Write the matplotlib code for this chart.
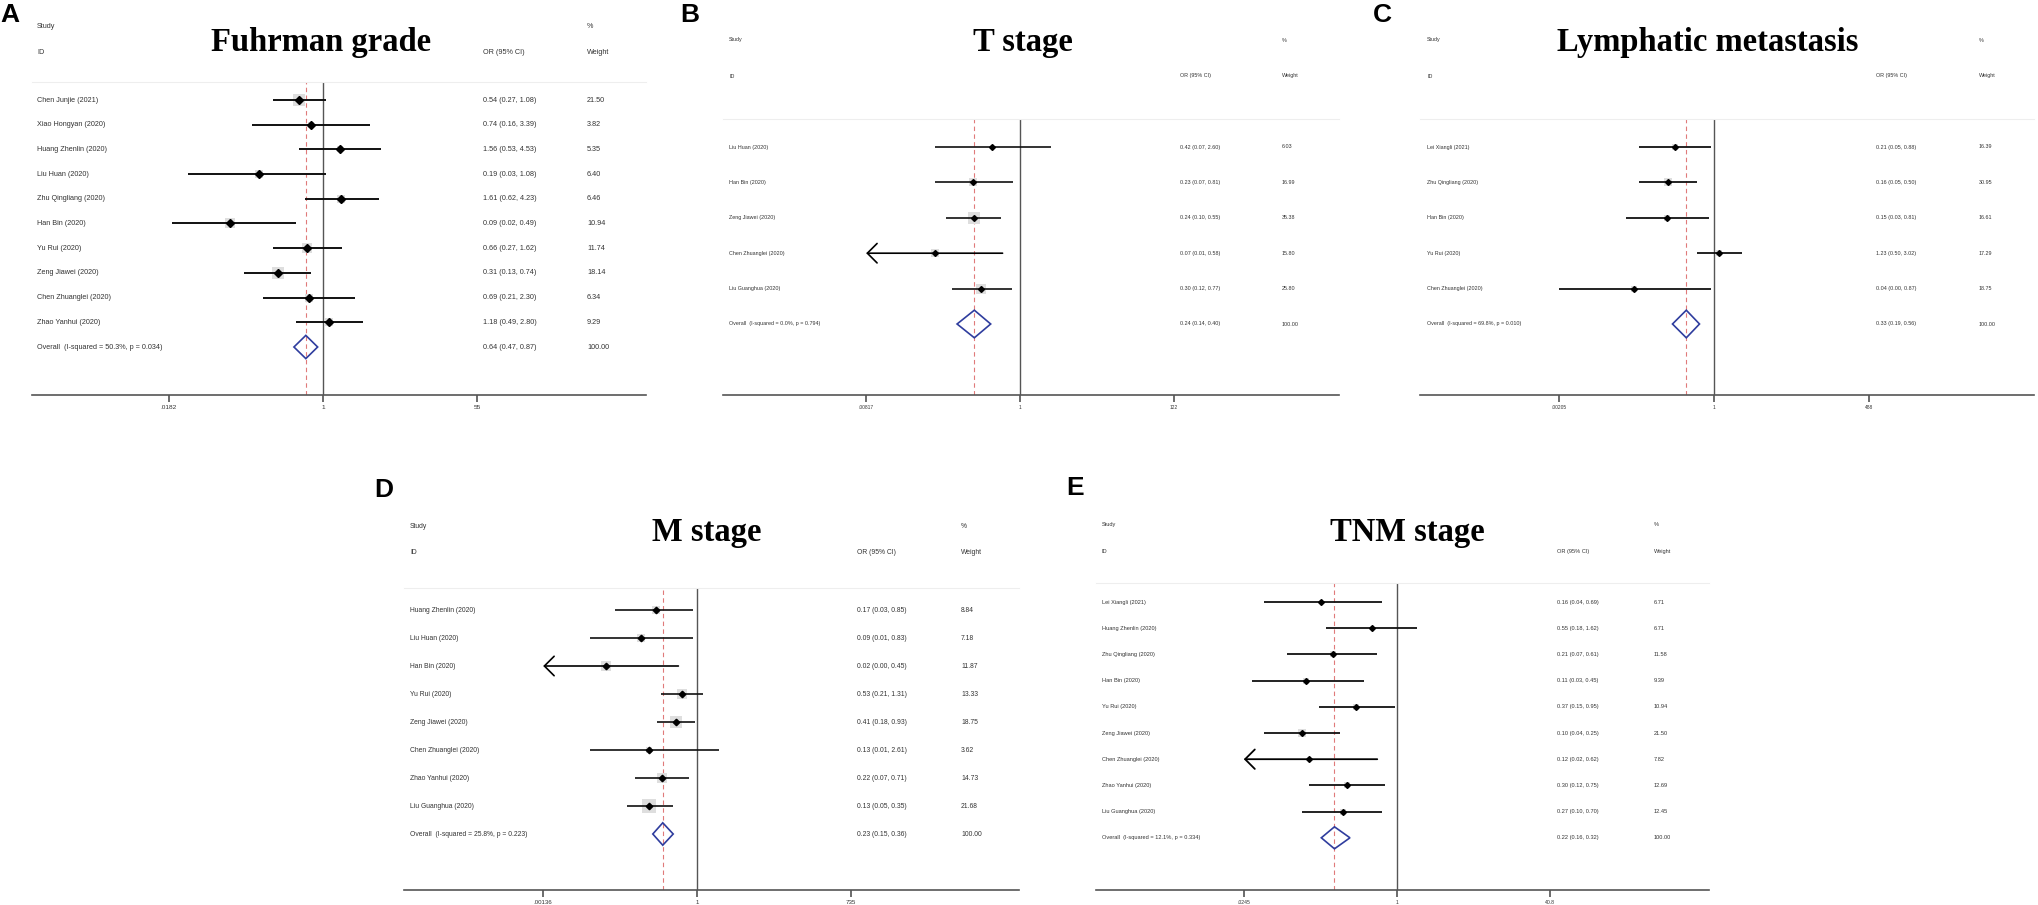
import numpy as np
import matplotlib
matplotlib.use("Agg")
from matplotlib import pyplot as plt
from matplotlib import transforms
from matplotlib.ticker import NullLocator

W, H = 2038, 905

# ---------------- data ----------------
a_studies = ["Chen Junjie (2021)", "Xiao Hongyan (2020)", "Huang Zhenlin (2020)", "Liu Huan (2020)",
             "Zhu Qingliang (2020)", "Han Bin (2020)", "Yu Rui (2020)", "Zeng Jiawei (2020)",
             "Chen Zhuanglei (2020)", "Zhao Yanhui (2020)"]
a_or = [0.54, 0.74, 1.56, 0.19, 1.61, 0.09, 0.66, 0.31, 0.69, 1.18]
a_lo = [0.27, 0.16, 0.53, 0.03, 0.62, 0.02, 0.27, 0.13, 0.21, 0.49]
a_hi = [1.08, 3.39, 4.53, 1.08, 4.23, 0.49, 1.62, 0.74, 2.30, 2.80]
a_wt = [21.50, 3.82, 5.35, 6.40, 6.46, 10.94, 11.74, 18.14, 6.34, 9.29]
a_overall = "Overall  (I-squared = 50.3%, p = 0.034)"
a_pooled = [0.64, 0.47, 0.87]
a_ticks = [0.0182, 1, 55]
a_ticklabels = [".0182", "1", "55"]
a_arrows = []

b_studies = ["Liu Huan (2020)", "Han Bin (2020)", "Zeng Jiawei (2020)", "Chen Zhuanglei (2020)",
             "Liu Guanghua (2020)"]
b_or = [0.42, 0.23, 0.24, 0.07, 0.30]
b_lo = [0.07, 0.07, 0.10, 0.01, 0.12]
b_hi = [2.60, 0.81, 0.55, 0.58, 0.77]
b_wt = [6.03, 16.99, 35.38, 15.80, 25.80]
b_overall = "Overall  (I-squared = 0.0%, p = 0.794)"
b_pooled = [0.24, 0.14, 0.40]
b_ticks = [0.00817, 1, 122]
b_ticklabels = [".00817", "1", "122"]
b_arrows = ["Chen Zhuanglei (2020)"]

c_studies = ["Lei Xiangli (2021)", "Zhu Qingliang (2020)", "Han Bin (2020)", "Yu Rui (2020)",
             "Chen Zhuanglei (2020)"]
c_or = [0.21, 0.16, 0.15, 1.23, 0.04]
c_lo = [0.05, 0.05, 0.03, 0.50, 0.00]
c_hi = [0.88, 0.50, 0.81, 3.02, 0.87]
c_wt = [16.39, 30.95, 16.61, 17.29, 18.75]
c_overall = "Overall  (I-squared = 69.8%, p = 0.010)"
c_pooled = [0.33, 0.19, 0.56]
c_ticks = [0.00205, 1, 488]
c_ticklabels = [".00205", "1", "488"]
c_arrows = []

d_studies = ["Huang Zhenlin (2020)", "Liu Huan (2020)", "Han Bin (2020)", "Yu Rui (2020)",
             "Zeng Jiawei (2020)", "Chen Zhuanglei (2020)", "Zhao Yanhui (2020)", "Liu Guanghua (2020)"]
d_or = [0.17, 0.09, 0.02, 0.53, 0.41, 0.13, 0.22, 0.13]
d_lo = [0.03, 0.01, 0.00, 0.21, 0.18, 0.01, 0.07, 0.05]
d_hi = [0.85, 0.83, 0.45, 1.31, 0.93, 2.61, 0.71, 0.35]
d_wt = [8.84, 7.18, 11.87, 13.33, 18.75, 3.62, 14.73, 21.68]
d_overall = "Overall  (I-squared = 25.8%, p = 0.223)"
d_pooled = [0.23, 0.15, 0.36]
d_ticks = [0.00136, 1, 735]
d_ticklabels = [".00136", "1", "735"]
d_arrows = ["Han Bin (2020)"]

e_studies = ["Lei Xiangli (2021)", "Huang Zhenlin (2020)", "Zhu Qingliang (2020)", "Han Bin (2020)",
             "Yu Rui (2020)", "Zeng Jiawei (2020)", "Chen Zhuanglei (2020)", "Zhao Yanhui (2020)",
             "Liu Guanghua (2020)"]
e_or = [0.16, 0.55, 0.21, 0.11, 0.37, 0.10, 0.12, 0.30, 0.27]
e_lo = [0.04, 0.18, 0.07, 0.03, 0.15, 0.04, 0.02, 0.12, 0.10]
e_hi = [0.69, 1.62, 0.61, 0.45, 0.95, 0.25, 0.62, 0.75, 0.70]
e_wt = [6.71, 6.71, 11.58, 9.39, 10.94, 21.50, 7.82, 12.69, 12.45]
e_overall = "Overall  (I-squared = 12.1%, p = 0.334)"
e_pooled = [0.22, 0.16, 0.32]
e_ticks = [0.0245, 1, 40.8]
e_ticklabels = [".0245", "1", "40.8"]
e_arrows = ["Chen Zhuanglei (2020)"]

# ---------------- layout (pixels) ----------------
# x0, x1: plot box; null: x of OR=1; ppu: pixels per ln unit
# sep: header rule y; axis: axis line y; row0/step: row positions
lay_a = dict(letter="A", lpos=(10, 15), title="Fuhrman grade", tpos=(321, 42),
             x0=32, x1=646, null=323, ppu=38.5, sep=82, axis=395, row0=100, step=24.7,
             study_x=37, or_x=483, wt_x=587, hy=(27, 52), fs=5.2, box_k=2.8, ms=3.6, lw=1.4, dh=0.47)
lay_b = dict(letter="B", lpos=(690, 15), title="T stage", tpos=(1023, 42),
             x0=723, x1=1339, null=1020, ppu=32, sep=119, axis=395, row0=147, step=35.4,
             study_x=729, or_x=1180, wt_x=1282, hy=(40, 76), fs=3.9, box_k=1.9, ms=3.0, lw=1.2, dh=0.39)
lay_c = dict(letter="C", lpos=(1382, 15), title="Lymphatic metastasis", tpos=(1708, 42),
             x0=1420, x1=2034, null=1714, ppu=25, sep=119, axis=395, row0=147, step=35.4,
             study_x=1427, or_x=1876, wt_x=1979, hy=(40, 76), fs=3.9, box_k=1.6, ms=3.0, lw=1.3, dh=0.39)
lay_d = dict(letter="D", lpos=(384, 490), title="M stage", tpos=(707, 533),
             x0=404, x1=1019, null=697, ppu=23.3, sep=588, axis=890, row0=610, step=28,
             study_x=410, or_x=857, wt_x=961, hy=(526, 553), fs=4.9, box_k=2.8, ms=3.3, lw=1.2, dh=0.4)
lay_e = dict(letter="E", lpos=(1075, 488), title="TNM stage", tpos=(1407, 533),
             x0=1096, x1=1709, null=1397, ppu=41.3, sep=583, axis=890, row0=602, step=26.2,
             study_x=1102, or_x=1557, wt_x=1654, hy=(524, 551), fs=4.1, box_k=1.7, ms=3.0, lw=1.3, dh=0.42)

TXT = "#333333"
plt.rcParams["font.family"] = ["Liberation Sans", "DejaVu Sans"]

fig = plt.figure(figsize=(W / 100, H / 100), dpi=100)


def fx(px):
    return px / W


def fy(py):
    return 1 - py / H


def draw_panel(lay, studies, ors, los, his, wts, overall, pooled, ticks, ticklabels, arrows):
    ax = fig.add_axes([fx(lay["x0"]), fy(lay["axis"]), (lay["x1"] - lay["x0"]) / W,
                       (lay["axis"] - lay["sep"]) / H])
    ax.set_xscale("log")
    ax.set_xlim(np.exp((lay["x0"] - lay["null"]) / lay["ppu"]),
                np.exp((lay["x1"] - lay["null"]) / lay["ppu"]))
    ax.set_ylim((lay["axis"] - lay["row0"]) / lay["step"], (lay["sep"] - lay["row0"]) / lay["step"])
    ax.set_facecolor("none")
    for s in ("left", "right"):
        ax.spines[s].set_visible(False)
    ax.spines["top"].set_color("#eeeeee")
    ax.spines["top"].set_linewidth(0.8)
    ax.spines["bottom"].set_color("#555555")
    ax.spines["bottom"].set_linewidth(1.2)
    ax.set_yticks([])
    ax.set_xticks(ticks)
    ax.set_xticklabels(ticklabels)
    ax.xaxis.set_minor_locator(NullLocator())
    ax.tick_params(axis="x", length=5, width=1.1, color="#444444", labelsize=lay["fs"] * 0.9,
                   labelcolor=TXT, pad=2)

    lo_lim = ticks[0]
    ax.axvline(1, color="#555555", lw=1.0, zorder=1)
    ax.axvline(pooled[0], color="#e07a7a", lw=0.8, ls=(0, (4, 3)), zorder=1)

    trans = transforms.blended_transform_factory(fig.transFigure, ax.transData)
    fs = lay["fs"]
    for i, name in enumerate(studies):
        lo = max(los[i], lo_lim)
        side = lay["box_k"] * np.sqrt(wts[i]) * 0.72
        ax.scatter([ors[i]], [i], s=side ** 2, marker="s", color="#dedede", lw=0, zorder=2)
        if name in arrows:
            ax.annotate("", xy=(lo_lim, i), xytext=(his[i], i),
                        arrowprops=dict(arrowstyle="->,head_length=0.7,head_width=0.7",
                                        mutation_scale=10, lw=lay["lw"], color="black",
                                        shrinkA=0, shrinkB=0), zorder=3)
        else:
            ax.hlines(i, lo, his[i], color="#111111", lw=lay["lw"], zorder=3)
        ax.plot([ors[i]], [i], marker="D", ms=lay["ms"], color="black", zorder=4)
        ax.text(fx(lay["study_x"]), i, name, transform=trans, fontsize=fs, color=TXT, va="center")
        ax.text(fx(lay["or_x"]), i, "%.2f (%.2f, %.2f)" % (ors[i], los[i], his[i]),
                transform=trans, fontsize=fs, color=TXT, va="center")
        ax.text(fx(lay["wt_x"]), i, "%.2f" % wts[i], transform=trans, fontsize=fs, color=TXT, va="center")

    k = len(studies)
    est, lo, hi = pooled
    h = lay["dh"]
    ax.fill([lo, est, hi, est, lo], [k, k - h, k, k + h, k], facecolor="none",
            edgecolor="#2f3d9e", lw=1.2, zorder=4)
    ax.text(fx(lay["study_x"]), k, overall, transform=trans, fontsize=fs, color=TXT, va="center")
    ax.text(fx(lay["or_x"]), k, "%.2f (%.2f, %.2f)" % (est, lo, hi), transform=trans,
            fontsize=fs, color=TXT, va="center")
    ax.text(fx(lay["wt_x"]), k, "%.2f" % 100, transform=trans, fontsize=fs, color=TXT, va="center")

    # headers
    y1, y2 = lay["hy"]
    fig.text(fx(lay["study_x"]), fy(y1), "Study", fontsize=fs, color=TXT, va="center")
    fig.text(fx(lay["study_x"]), fy(y2), "ID", fontsize=fs, color=TXT, va="center")
    fig.text(fx(lay["or_x"]), fy(y2), "OR (95% CI)", fontsize=fs, color=TXT, va="center")
    fig.text(fx(lay["wt_x"]), fy(y1), "%", fontsize=fs, color=TXT, va="center")
    fig.text(fx(lay["wt_x"]), fy(y2), "Weight", fontsize=fs, color=TXT, va="center")

    fig.text(fx(lay["tpos"][0]), fy(lay["tpos"][1]), lay["title"], fontsize=23.5,
             family="Liberation Serif", weight="bold", ha="center", va="center")
    fig.text(fx(lay["lpos"][0]), fy(lay["lpos"][1]), lay["letter"], fontsize=19,
             weight="bold", ha="center", va="center")


draw_panel(lay_a, a_studies, a_or, a_lo, a_hi, a_wt, a_overall, a_pooled, a_ticks, a_ticklabels, a_arrows)
draw_panel(lay_b, b_studies, b_or, b_lo, b_hi, b_wt, b_overall, b_pooled, b_ticks, b_ticklabels, b_arrows)
draw_panel(lay_c, c_studies, c_or, c_lo, c_hi, c_wt, c_overall, c_pooled, c_ticks, c_ticklabels, c_arrows)
draw_panel(lay_d, d_studies, d_or, d_lo, d_hi, d_wt, d_overall, d_pooled, d_ticks, d_ticklabels, d_arrows)
draw_panel(lay_e, e_studies, e_or, e_lo, e_hi, e_wt, e_overall, e_pooled, e_ticks, e_ticklabels, e_arrows)

fig.savefig("out.png", dpi=100)
